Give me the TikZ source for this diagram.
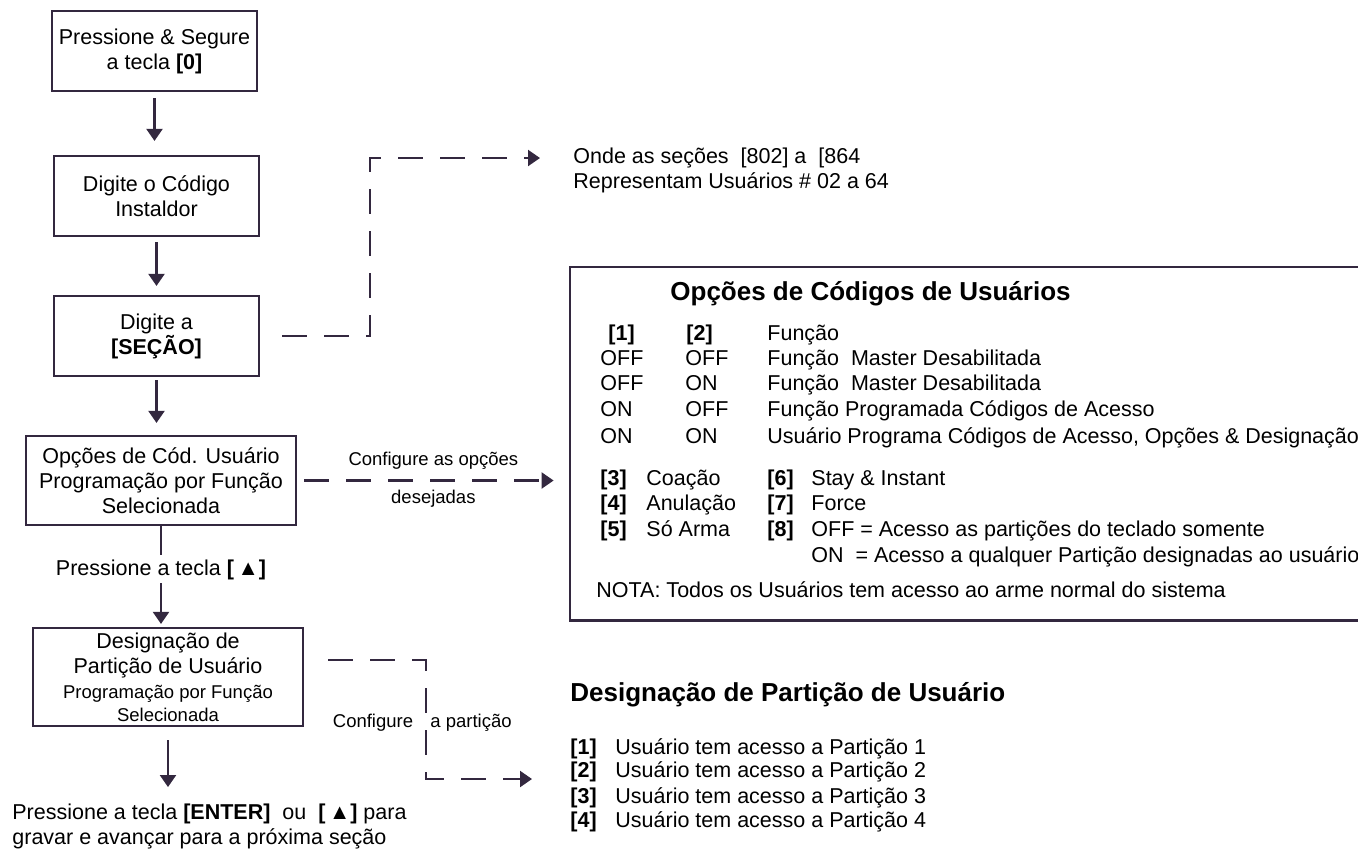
\documentclass[tikz,border=0pt]{standalone}
\usepackage{fontspec}
\setmainfont{Liberation Sans}
\usepackage{tikz}
\definecolor{ink}{HTML}{33283F}
\usetikzlibrary{
  arrows.meta,
  positioning,
  calc
}
\newcommand{\boxfont}{\fontsize{10.75}{12.5}\selectfont}
\newcommand{\lblfont}{\fontsize{9.25}{11.5}\selectfont}
\newcommand{\headfont}{\fontsize{13}{16}\selectfont\bfseries}
\newcommand{\upkey}{\textbf{[\,▲]}}
\tikzset{
  >={Triangle[width=8pt,length=6pt]},
  every node/.style={font=\boxfont, text=black},
  stepbox/.style={
    draw=ink,
    line width=1.1pt,
    align=center,
    inner sep=0pt,
    minimum width=102.5pt,
    minimum height=40pt
  },
  widebox/.style={stepbox, minimum width=135pt},
  flow/.style={->, line width=1.1pt, draw=ink},
  dashflow/.style={->, line width=1.1pt, draw=ink, dash pattern=on 12.5pt off 8.5pt},
  annot/.style={font=\boxfont, anchor=base west, inner sep=0pt},
  key/.style={annot, font=\boxfont\bfseries},
  lbl/.style={font=\lblfont, inner sep=1pt}
}

\begin{document}
\begin{tikzpicture}[x=0.5pt, y=-0.5pt]
  \useasboundingbox (0,0) rectangle (1358,848);

  % Left: the steps
  \node[stepbox] (hold) at (154.5,51) {Pressione \& Segure\\a tecla \textbf{[0]}};
  \node[stepbox] (code) at (156.5,196) {Digite o Código\\Instaldor};
  \node[stepbox] (sect) at (156.5,336) {Digite a\\\textbf{[SEÇÃO]}};
  \node[widebox, minimum height=44.5pt] (opt) at (161,480.5)
    {Opções de Cód. Usuário\\Programação por Função\\Selecionada};
  \node[widebox, minimum height=49pt] (part) at (168,677)
    {Designação de\\Partição de Usuário\\{\lblfont Programação por Função}\\[-1pt]{\lblfont Selecionada}};
  \node[anchor=west, align=left, inner sep=0pt] (enter) at (12,826)
    {Pressione a tecla \textbf{[ENTER]}~ ou~ \upkey{} para\\gravar e avançar para a próxima seção};

  \draw[flow, shorten <=3pt, shorten >=7pt] (hold.south) -- (hold.south |- code.north);
  \draw[flow, shorten <=2.5pt, shorten >=4.5pt] (code.south) -- (code.south |- sect.north);
  \draw[flow, shorten <=1.5pt, shorten >=6pt] (sect.south) -- (sect.south |- opt.north);
  \draw[flow, shorten >=1.5pt] (opt.south) -- node[pos=0.43, fill=white, inner sep=2pt] {Pressione a tecla \upkey} (opt.south |- part.north);
  \draw[flow, shorten <=6.5pt, shorten >=8pt] (part.south) -- (part.south |- enter.north);

  % Top right: sections note
  \node[annot] (note) at (573,163) {Onde as seções\ \ [802] a\ \ [864};
  \node[annot] (note2) at (573,188) {Representam Usuários \# 02 a 64};
  \coordinate (n1) at (370,158);
  \draw[dashflow, shorten <=11pt, shorten >=16.5pt] (sect.east) -| (n1) -- (n1 -| note.west);

  % Right: user code options
  \node[minimum width=400pt, minimum height=176.5pt, inner sep=0pt] (box) at (970,443.5) {};
  \draw[ink, line width=1.1pt] (box.north east) -- (box.north west) -- (box.south west) -- (box.south east);
  \draw[dashflow, shorten <=3.5pt, shorten >=8pt] (opt.east) -- (opt.east -| box.west)
    node[lbl, midway, yshift=10pt] {Configure as opções}
    node[lbl, midway, yshift=-9pt] {desejadas};

  \node[annot, font=\headfont] (boxhead) at (670,300) {Opções de Códigos de Usuários};
  \node[key] at (608,340) {[1]};
  \node[key] at (686,340) {[2]};
  \node[annot] at (767,340) {Função};
  \node[annot] at (600,365) {OFF};
  \node[annot] at (685,365) {OFF};
  \node[annot] at (767,365) {Função\ \ Master Desabilitada};
  \node[annot] at (600,390) {OFF};
  \node[annot] at (685,390) {ON};
  \node[annot] at (767,390) {Função\ \ Master Desabilitada};
  \node[annot] at (600,416) {ON};
  \node[annot] at (685,416) {OFF};
  \node[annot] at (767,416) {Função Programada Códigos de Acesso};
  \node[annot] at (600,443) {ON};
  \node[annot] at (685,443) {ON};
  \node[annot] at (767,443) {Usuário Programa Códigos de Acesso, Opções \& Designação};

  \node[key] at (600,485) {[3]};
  \node[annot] at (646,485) {Coação};
  \node[key] at (767,485) {[6]};
  \node[annot] at (811,485) {Stay \& Instant};
  \node[key] at (600,510) {[4]};
  \node[annot] at (646,510) {Anulação};
  \node[key] at (767,510) {[7]};
  \node[annot] at (811,510) {Force};
  \node[key] at (600,536) {[5]};
  \node[annot] at (646,536) {Só Arma};
  \node[key] at (767,536) {[8]};
  \node[annot] at (811,536) {OFF = Acesso as partições do teclado somente};
  \node[annot] at (811,562) {ON\ \ = Acesso a qualquer Partição designadas ao usuário};
  \node[annot] at (596,597) {NOTA: Todos os Usuários tem acesso ao arme normal do sistema};

  % Bottom right: partition assignment
  \node[annot, font=\headfont] (parthead) at (570,701) {Designação de Partição de Usuário};
  \node[key] (pk1) at (570,754) {[1]};
  \node[annot] at (615,754) {Usuário tem acesso a Partição 1};
  \node[key] (pk2) at (570,777) {[2]};
  \node[annot] at (615,777) {Usuário tem acesso a Partição 2};
  \node[key] (pk3) at (570,803) {[3]};
  \node[annot] at (615,803) {Usuário tem acesso a Partição 3};
  \node[key] (pk4) at (570,827) {[4]};
  \node[annot] at (615,827) {Usuário tem acesso a Partição 4};

  \coordinate (p1) at (426,660);
  \coordinate (p2) at (426,779);
  \draw[dashflow, shorten <=12pt, shorten >=19pt] (part.east |- p1) -- (p1) -- (p2) -- (p2 -| pk1.west);
  \node[lbl] (cfg) at (373,723) {Configure};
  \node[lbl, anchor=west] (cfg2) at (428,723) {a partição};
\end{tikzpicture}
\end{document}
